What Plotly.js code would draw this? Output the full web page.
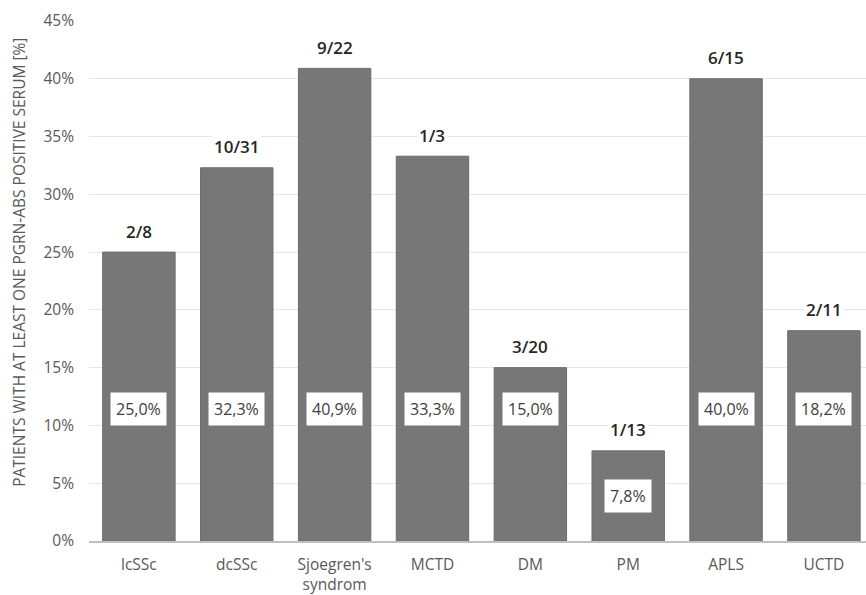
<!DOCTYPE html>
<html>
<head>
<meta charset="utf-8">
<script src="https://cdn.plot.ly/plotly-3.0.1.min.js"></script>
<style>html,body{margin:0;padding:0;background:#fff;}#chart{width:866px;height:595px;}</style>
</head>
<body>
<div id="chart"></div>
<script>
var categories = ["lcSSc", "dcSSc", "Sjoegren's<br>syndrom", "MCTD", "DM", "PM", "APLS", "UCTD"];
var percentValues = [25.0, 32.3, 40.9, 33.3, 15.0, 7.8, 40.0, 18.2];
var ratioLabels = ["2/8", "10/31", "9/22", "1/3", "3/20", "1/13", "6/15", "2/11"];
var yTickValues = [0, 5, 10, 15, 20, 25, 30, 35, 40, 45];
var yTickLabels = ["0%", "5%", "10%", "15%", "20%", "25%", "30%", "35%", "40%", "45%"];
var yTitle = "PATIENTS WITH AT LEAST ONE PGRN-ABS POSITIVE SERUM [%]";

var FONT = "'Open Sans', 'Noto Sans', sans-serif";

var trace = {
  type: "bar",
  x: categories.map(function(c, i){ return i; }),
  y: percentValues,
  marker: {color: "#777777", line: {color: "#6c6c6c", width: 1}},
  hoverinfo: "none"
};

var annotations = [];
percentValues.forEach(function(v, i){
  annotations.push({
    x: i, y: v, xref: "x", yref: "y",
    text: ratioLabels[i],
    showarrow: false, yanchor: "middle", yshift: 21,
    font: {family: FONT, size: 17, color: "#262626", weight: 600},
    bgcolor: "#ffffff", borderpad: 1
  });
  var labelY = v < 11.4 ? v / 2 : 11.4;
  annotations.push({
    x: i, y: labelY, xref: "x", yref: "y",
    text: v.toFixed(1).replace(".", ",") + "%",
    showarrow: false, yanchor: "middle",
    font: {family: FONT, size: 16, color: "#404040"},
    bgcolor: "#ffffff", borderpad: 5
  });
});
annotations.push({
  xref: "paper", yref: "paper", x: -0.09, y: 0.535,
  xanchor: "center", yanchor: "middle", textangle: -90,
  text: yTitle, showarrow: false,
  font: {family: FONT, size: 15.5, color: "#595959"}
});

var layout = {
  width: 866, height: 595,
  margin: {l: 89, r: 0, t: 21, b: 53.5},
  paper_bgcolor: "#ffffff", plot_bgcolor: "#ffffff",
  showlegend: false,
  bargap: 0.26,
  font: {family: FONT, color: "#595959"},
  xaxis: {
    range: [-0.51, 7.43],
    tickvals: categories.map(function(c, i){ return i; }),
    ticktext: categories,
    tickfont: {family: FONT, size: 15.5, color: "#595959"},
    ticks: "", ticklabelstandoff: 8,
    showgrid: false, zeroline: false,
    showline: true, linecolor: "#bfbfbf", linewidth: 2,
    fixedrange: true
  },
  yaxis: {
    range: [0, 45],
    tickvals: yTickValues,
    ticktext: yTickLabels,
    tickfont: {family: FONT, size: 15.5, color: "#595959"},
    ticks: "", ticklabelstandoff: 14,
    showgrid: true, gridcolor: "#e6e6e6", gridwidth: 1,
    zeroline: false, showline: false,
    fixedrange: true
  },
  annotations: annotations
};

Plotly.newPlot("chart", [trace], layout, {displayModeBar: false, staticPlot: true});
</script>
</body>
</html>
